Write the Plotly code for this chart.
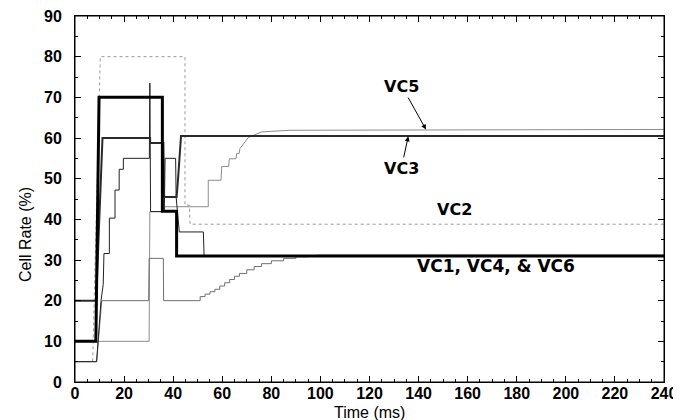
import plotly.graph_objects as go

# ---- data (time in ms, cell rate in %) ----
vc1_t = [0, 8.5, 9.8, 35.6, 35.6, 41.4, 41.4, 240]
vc1_v = [10, 10, 70, 70, 42, 42, 31, 31]

vc2_t = [0, 7.2, 10.3, 44.8, 44.8, 46.6, 46.9, 240]
vc2_v = [5, 5, 80, 80, 43.5, 43.5, 38.8, 38.8]

vc3_t = [0, 8.6, 11.2, 30.6, 30.6, 36.0, 36.3, 41.4, 42.0, 42.6, 43.2, 240]
vc3_v = [20, 20, 60, 60, 58.8, 58.8, 45.5, 45.5, 50, 57, 60.5, 60.5]

vc4_t = [0, 8.8, 10.9, 30.0, 30.2, 36.0, 36.1, 51, 51, 53, 53, 55, 55, 57, 57, 59, 59,
         61, 61, 63, 63, 65, 65, 67, 67, 70, 70, 73, 73, 76, 76, 80, 80, 85, 85, 90,
         90, 95, 95, 100, 240]
vc4_v = [5, 5, 20, 20, 30.4, 30.4, 20, 20, 21, 21, 21.6, 21.6, 22.2, 22.2, 22.8, 22.8,
         23.6, 23.6, 24.4, 24.4, 25.2, 25.2, 26, 26, 26.7, 26.7, 27.6, 27.6, 28.4, 28.4,
         29.1, 29.1, 29.8, 29.8, 30.4, 30.4, 30.8, 30.8, 31, 31.2, 31.2]

vc5_t = [0, 30.2, 30.5, 36.0, 36.4, 54.3, 54.3, 55.3, 59.5, 59.8, 62.6, 62.9, 65.6,
         65.9, 66.9, 67.2, 70.6, 76, 87.6, 240]
vc5_v = [10, 10, 41.9, 41.9, 43.1, 43.1, 49.6, 49.6, 49.6, 53, 53, 54.9, 54.9,
         56.2, 56.2, 57.4, 60.1, 61.5, 61.9, 62.1]

vc6_t = [0, 8.8, 10.6, 11.5, 11.8, 14.0, 14.0, 16.3, 16.3, 18.0, 18.0, 19.7, 19.7,
         30.3, 30.5, 30.8, 36.4, 36.7, 41.0, 41.2, 42.5, 52.3, 52.6, 240]
vc6_v = [5, 5, 20, 24, 31.6, 31.6, 40.3, 40.3, 47.2, 47.2, 52.3, 52.3, 55,
         55, 73.5, 41.9, 41.9, 55, 55, 45.5, 36.9, 36.9, 31, 31]

series = [
    ("VC2", vc2_t, vc2_v, dict(color="#9a9a9a", width=1, dash="dot")),
    ("VC5", vc5_t, vc5_v, dict(color="#8c8c8c", width=1)),
    ("VC4", vc4_t, vc4_v, dict(color="#707070", width=1)),
    ("VC6", vc6_t, vc6_v, dict(color="#222222", width=1)),
    ("VC3", vc3_t, vc3_v, dict(color="#2a2a2a", width=2)),
    ("VC1", vc1_t, vc1_v, dict(color="#000000", width=3)),
]

fig = go.Figure()
for name, t, v, ln in series:
    fig.add_trace(go.Scatter(x=t, y=v, mode="lines", name=name, line=ln,
                             showlegend=False, hoverinfo="skip"))

tickfont = dict(family="Liberation Sans, Arial, sans-serif", size=16,
                color="black", weight="bold")
ax_common = dict(showline=True, linecolor="black", linewidth=1, mirror="ticks",
                 ticks="inside", ticklen=6, tickcolor="black", showgrid=False,
                 zeroline=False, tickfont=tickfont, automargin=False,
                 ticklabeloverflow="allow")

fig.update_xaxes(range=[0, 240], dtick=20, tick0=0, ticklabelstandoff=-3,
                 minor=dict(dtick=5, ticks="inside", ticklen=3, tickcolor="black"),
                 **ax_common)
fig.update_yaxes(range=[0, 90], dtick=10, tick0=0, ticklabelstandoff=9,
                 minor=dict(dtick=5, ticks="inside", ticklen=3, tickcolor="black"),
                 **ax_common)

# plot frame
fig.add_shape(type="rect", xref="paper", yref="paper", x0=0, y0=0, x1=1, y1=1,
              line=dict(color="black", width=1), layer="above")

title_font = dict(family="Liberation Sans, Arial, sans-serif", size=16, color="black")
fig.add_annotation(xref="paper", yref="paper", x=0.5, y=-0.082, yanchor="middle",
                   text="Time (ms)", showarrow=False, font=title_font)
fig.add_annotation(xref="paper", x=-0.085, xanchor="center", yref="paper", y=0.404,
                   text="Cell Rate (%)", textangle=-90, showarrow=False,
                   font=dict(family="Liberation Sans, Arial, sans-serif", size=16,
                             color="black"))

lab_font = dict(family="DejaVu Sans, sans-serif", size=16,
                color="black", weight="bold")
fig.add_annotation(x=143, y=62.1, text="VC5", showarrow=True, ax=-24, ay=-43,
                   arrowhead=2, arrowsize=1, arrowwidth=1, arrowcolor="black",
                   font=lab_font)
fig.add_annotation(x=135.8, y=60.4, text="VC3", showarrow=True, ax=-7, ay=32,
                   arrowhead=2, arrowsize=1, arrowwidth=1, arrowcolor="black",
                   font=lab_font)
fig.add_annotation(x=154.8, y=42.5, text="VC2", showarrow=False, font=lab_font)
fig.add_annotation(x=171.5, y=28.5, text="VC1, VC4, & VC6", showarrow=False,
                   font=dict(family="DejaVu Sans, sans-serif", size=17,
                             color="black", weight="bold"))

fig.update_layout(width=673, height=412, margin=dict(l=67, r=17, t=8, b=38),
                  paper_bgcolor="white", plot_bgcolor="white")

fig.write_html("out.html")
